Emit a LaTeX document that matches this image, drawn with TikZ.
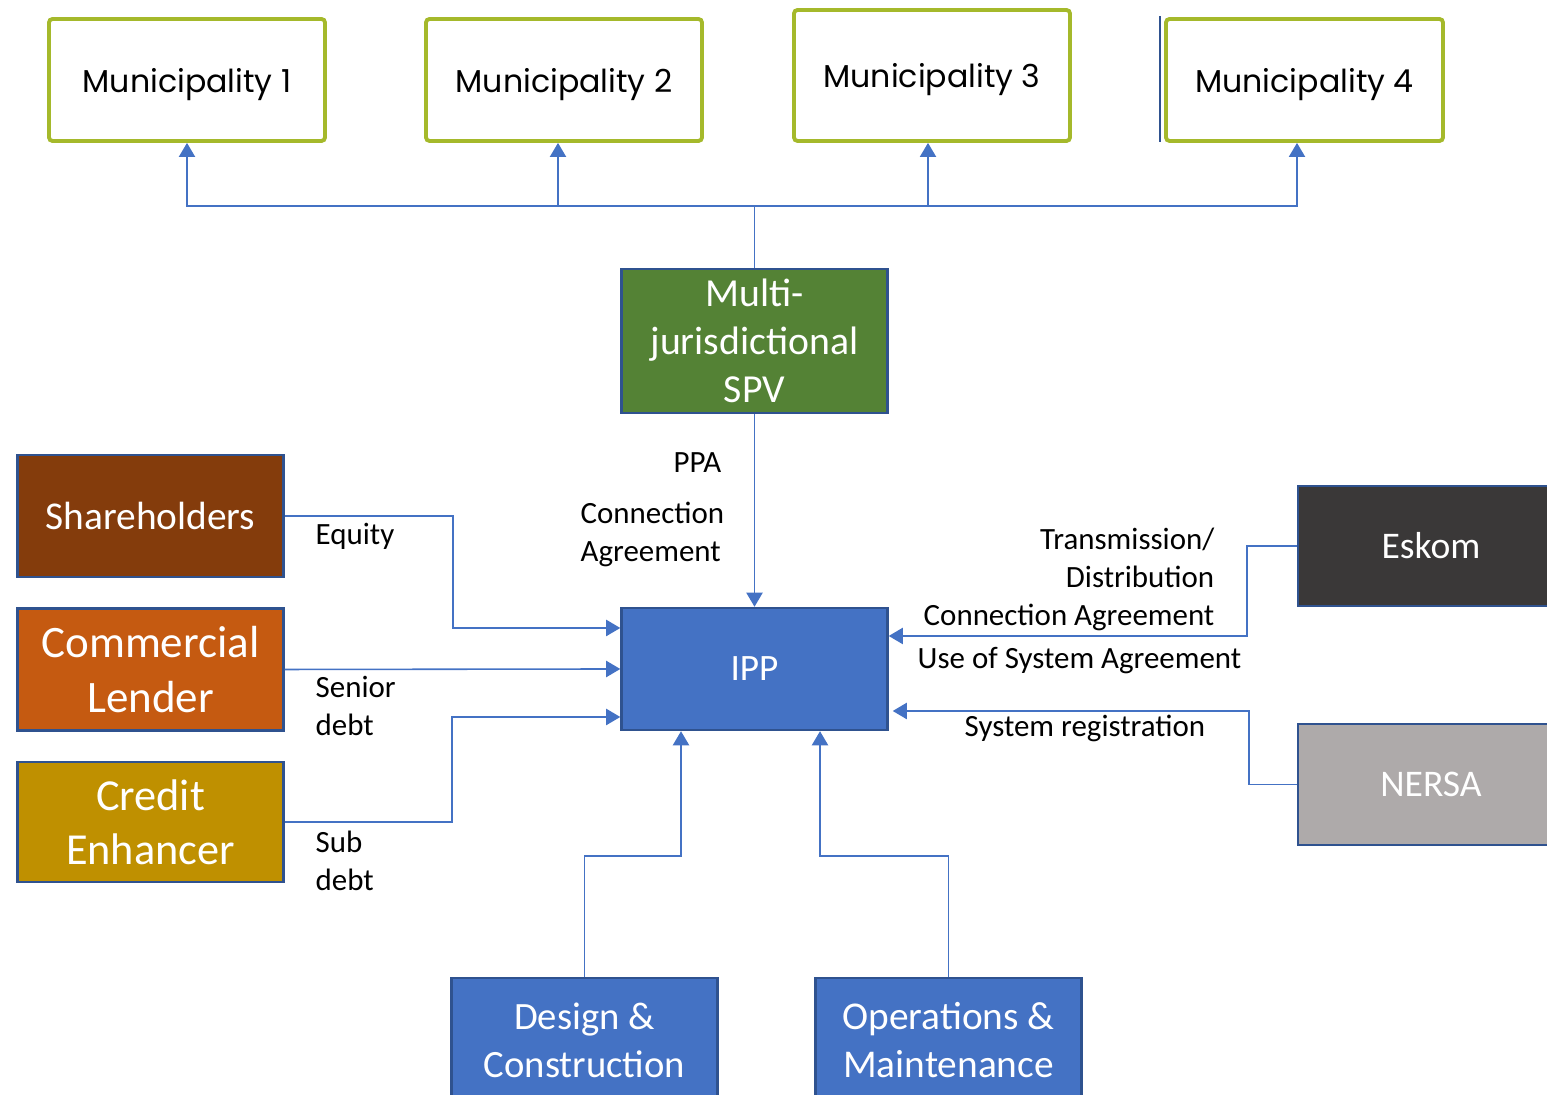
\documentclass[tikz,border=0pt]{standalone}
\usepackage{fontspec}
\setmainfont{Carlito}
\newfontfamily\munifont{Poppins}
\usetikzlibrary{arrows.meta,positioning,calc}

\definecolor{munigreen}{RGB}{165,185,43}
\definecolor{spvgreen}{RGB}{84,130,53}
\definecolor{ippblue}{RGB}{68,114,196}
\definecolor{edgeblue}{RGB}{47,82,143}
\definecolor{linkblue}{RGB}{68,114,196}
\definecolor{shbrown}{RGB}{132,60,12}
\definecolor{clorange}{RGB}{197,90,17}
\definecolor{cegold}{RGB}{191,144,0}
\definecolor{eskgray}{RGB}{58,56,56}
\definecolor{nergray}{RGB}{174,170,170}

\newcommand{\fs}[2]{\fontsize{#1}{#2}\selectfont}

\begin{document}
\begin{tikzpicture}[
        muni/.style={rectangle, draw=munigreen, line width=1.1pt, rounded corners=1pt, fill=white, minimum width=2.76cm, minimum height=1.22cm, inner sep=0pt, text depth=0pt, font=\munifont\fs{9}{11}},
        party/.style={rectangle, draw=edgeblue, line width=0.7pt, minimum width=2.66cm, minimum height=1.22cm, inner sep=0pt, align=center, text=white},
        arrow/.style={-{Triangle[width=4.6pt,length=4pt]}, draw=linkblue, line width=0.45pt},
        lbl/.style={inner sep=0pt, font=\fs{8.8}{10.8}}
    ]
        \useasboundingbox (0,0) rectangle (15.47,10.95);

        % municipalities
        \node[muni] (m1) at (1.87,10.15) {Municipality 1};
        \node[muni] (m2) at (5.64,10.15) {Municipality 2};
        \node[muni, minimum height=1.31cm] (m3) at (9.32,10.195) {Municipality 3};
        \node[muni, minimum width=2.77cm] (m4) at (13.045,10.15) {Municipality 4};
        \draw[edgeblue, line width=0.8pt] ([xshift=-0.04cm,yshift=0.01cm]m4.north west) -- ([xshift=-0.04cm,yshift=0.01cm]m4.south west);

        % centre
        \node[party, fill=spvgreen, minimum height=1.44cm, font=\fs{11.3}{13.7}] (spv) at (7.545,7.54) {Multi-\\jurisdictional\\SPV};
        \node[party, fill=ippblue, font=\fs{10.6}{12}] (ipp) at (7.545,4.26) {IPP};
        \coordinate (hub) at (7.545,8.89);

        % funders
        \node[party, fill=shbrown, font=\fs{11.2}{13}] (sh) at (1.505,5.79) {Shareholders};
        \node[party, fill=clorange, font=\fs{12.8}{15.6}] (cl) at (1.505,4.255) {Commercial\\Lender};
        \node[party, fill=cegold, minimum height=1.2cm, font=\fs{12.6}{15.4}] (ce) at (1.505,2.73) {Credit\\Enhancer};

        % regulators
        \node[party, fill=eskgray, minimum height=1.2cm, font=\fs{10.7}{12}] (esk) at (14.31,5.49) {Eskom};
        \node[party, fill=nergray, minimum height=1.21cm, font=\fs{10.7}{12}] (ner) at (14.31,3.105) {NERSA};

        % contractors
        \node[party, fill=ippblue, minimum height=1.24cm, font=\fs{11}{13.7}] (dc) at (5.845,0.55) {Design \&\\Construction};
        \node[party, fill=ippblue, minimum height=1.24cm, font=\fs{11.2}{13.7}] (om) at (9.485,0.55) {Operations \&\\Maintenance};

        % connectors
        \draw[arrow] (spv.north) -- (hub) -| (m1.south);
        \draw[arrow] (spv.north) -- (hub) -| ([xshift=-0.06cm]m2.south);
        \draw[arrow] (spv.north) -- (hub) -| ([xshift=-0.04cm]m3.south);
        \draw[arrow] (spv.north) -- (hub) -| ([xshift=-0.075cm]m4.south);
        \draw[arrow] (spv) -- (ipp);

        \draw[arrow] (sh.east) -- ++(1.68,0) |- ([yshift=0.41cm]ipp.west);
        \draw[arrow] (cl.east) -- (ipp.west);
        \draw[arrow] (ce.east) -- ++(1.67,0) |- ([yshift=-0.48cm]ipp.west);
        \draw[arrow] (esk.west) -- ++(-0.5,0) |- ([yshift=0.33cm]ipp.east);
        \draw[arrow] (ner.west) -- ++(-0.48,0) |- ([yshift=-0.42cm,xshift=0.04cm]ipp.east);
        \draw[arrow] (dc.north) -- ++(0,1.21) -| ([xshift=-0.735cm]ipp.south);
        \draw[arrow] (om.north) -- ++(0,1.21) -| ([xshift=0.655cm]ipp.south);

        % labels
        \node[lbl, anchor=east] (ppa) at (7.22,6.32) {PPA};
        \node[lbl, anchor=west, align=left] (conn) at (5.80,5.605) {Connection\\Agreement};
        \node[lbl, anchor=west] (eq) at (3.15,5.59) {Equity};
        \node[lbl, anchor=west, align=left] (sd) at (3.15,3.89) {Senior\\debt};
        \node[lbl, anchor=west, align=left] (subd) at (3.15,2.34) {Sub\\debt};
        \node[lbl, anchor=east, align=right] (tdc) at (12.15,5.16) {Transmission/\\Distribution\\Connection Agreement};
        \node[lbl, anchor=west] (uos) at (9.17,4.34) {Use of System Agreement};
        \node[lbl, anchor=west] (sreg) at (9.64,3.67) {System registration};
    \end{tikzpicture}
\end{document}
